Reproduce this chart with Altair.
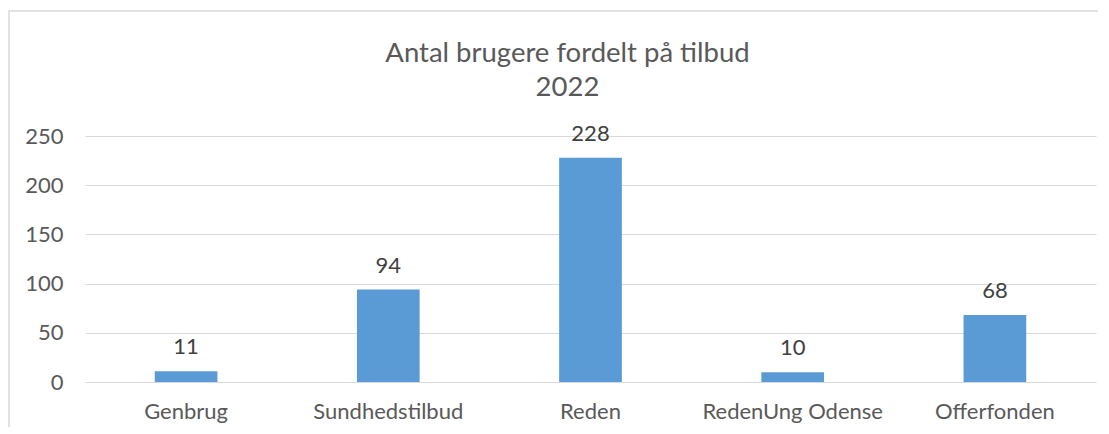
import altair as alt
import pandas as pd

categories = ["Genbrug", "Sundhedstilbud", "Reden", "RedenUng Odense", "Offerfonden"]
values = [11, 94, 228, 10, 68]
y_ticks = [0, 50, 100, 150, 200, 250]
title_lines = ["Antal brugere fordelt på tilbud", "2022"]

df = pd.DataFrame({"tilbud": categories, "antal": values})

W, H = 1011, 246
FONT = "Lato"
LBL = 22

x = alt.X("tilbud:N", sort=categories, title=None,
          scale=alt.Scale(paddingInner=0.69, paddingOuter=0.345),
          axis=alt.Axis(labelAngle=0, ticks=False, domain=False, labelPadding=19,
                        labelLimit=0, labelFontSize=LBL, labelColor="#595959",
                        labelFont=FONT, grid=False))
y = alt.Y("antal:Q", title=None, scale=alt.Scale(domain=[0, 250], nice=False),
          axis=alt.Axis(values=y_ticks, ticks=False, domain=False, labelPadding=22,
                        labelFontSize=LBL, labelColor="#595959", labelFont=FONT,
                        grid=True, gridColor="#d9d9d9", gridWidth=1))

bars = alt.Chart(df).mark_bar(color="#5B9BD5").encode(x=x, y=y)
labels = alt.Chart(df).mark_text(dy=-17, baseline="alphabetic", fontSize=LBL,
                                 color="#404040", font=FONT).encode(
    x=alt.X("tilbud:N", sort=categories), y="antal:Q", text="antal:Q")

border = alt.Chart(alt.Data(values=[{}])).mark_rect(
    fill=None, stroke="#d9d9d9", strokeWidth=1.5, clip=False).encode(
    x=alt.value(-76), x2=alt.value(1040), y=alt.value(-125), y2=alt.value(330))

title1 = alt.Chart(alt.Data(values=[{"t": title_lines[0]}])).mark_text(
    font=FONT, fontSize=27.5, color="#595959", baseline="alphabetic", align="center").encode(
    text="t:N", x=alt.value(482.5), y=alt.value(-74))
title2 = alt.Chart(alt.Data(values=[{"t": title_lines[1]}])).mark_text(
    font=FONT, fontSize=27.5, color="#595959", baseline="alphabetic", align="center").encode(
    text="t:N", x=alt.value(482.5), y=alt.value(-40))

chart = alt.layer(border, bars, labels, title1, title2).properties(
    width=W, height=H,
    autosize=alt.AutoSizeParams(type="none"),
    padding={"left": 77, "top": 128, "right": 2, "bottom": 45},
).configure_view(stroke=None)

chart.save("out.html", embed_options={"renderer": "svg", "actions": False})
